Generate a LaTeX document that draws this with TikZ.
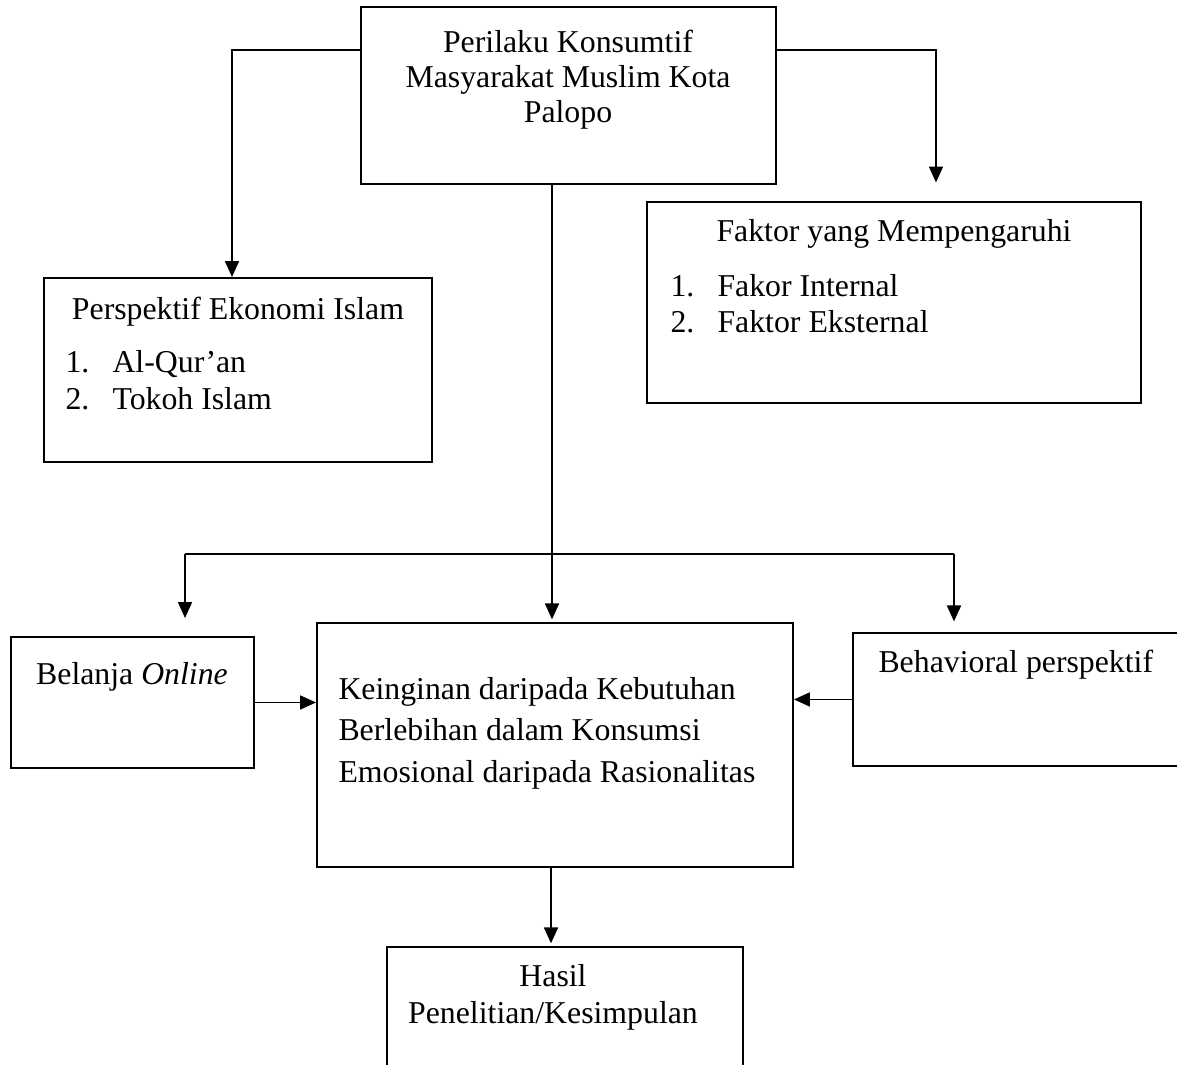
\documentclass[tikz,border=0pt]{standalone}
\usepackage{fontspec}
\setmainfont{Liberation Serif}
\usetikzlibrary{positioning, arrows.meta, fit}

\tikzset{
  kotak/.style={draw, line width=0.75pt, inner sep=0pt},
  teks/.style={inner sep=0pt, font=\fontsize{12pt}{14pt}\selectfont},
  garis/.style={line width=0.6pt},
  panah/.style={garis, -{Triangle[width=5.3pt, length=6pt]}}
}

\begin{document}
\begin{tikzpicture}[x=0.3774pt, y=-0.3774pt]
  \clip (0,0) rectangle (1177,1065);
  \fill[white] (0,0) rectangle (1177,1065);

  \node[kotak, fit={(361,7) (776,184)}] (atas) {};
  \node[kotak, fit={(44,278) (432,462)}] (kiri) {};
  \node[kotak, fit={(647,202) (1141,403)}] (kanan) {};
  \node[kotak, fit={(11,637) (254,768)}] (belanja) {};
  \node[kotak, fit={(317,623) (793,867)}] (tengah) {};
  \node[kotak, fit={(853,633) (1200,766)}] (perilaku) {};
  \node[kotak, fit={(387,947) (743,1100)}] (hasil) {};

  \foreach \t [count=\i] in {Perilaku Konsumtif, Masyarakat Muslim Kota, Palopo}
    \node[teks, anchor=base] (atas-\i) at (568,18+35*\i) {\t};

  \node[teks, anchor=base] (kiri-judul) at (238,320) {Perspektif Ekonomi Islam};
  \foreach \t [count=\i] in {Al-Qur’an, Tokoh Islam} {
    \node[teks, anchor=base west] (kiri-no\i) at (65,336+37*\i) {\i.};
    \node[teks, anchor=base west] (kiri-\i) at (112,336+37*\i) {\t};
  }

  \node[teks, anchor=base] (kanan-judul) at (894,242) {Faktor yang Mempengaruhi};
  \foreach \t [count=\i] in {Fakor Internal, Faktor Eksternal} {
    \node[teks, anchor=base west] (kanan-no\i) at (670,261+36*\i) {\i.};
    \node[teks, anchor=base west] (kanan-\i) at (717,261+36*\i) {\t};
  }

  \node[teks, anchor=base] (belanja-t) at (132,685) {Belanja \textit{Online}};
  \node[teks, anchor=base west] (perilaku-t) at (878,673) {Behavioral perspektif};

  \foreach \t [count=\i] in {Keinginan daripada Kebutuhan, Berlebihan dalam Konsumsi, Emosional daripada Rasionalitas}
    \node[teks, anchor=base west] (tengah-\i) at (338,658+41.5*\i) {\t};

  \node[teks, anchor=base] (hasil-1) at (553,987) {Hasil};
  \node[teks, anchor=base] (hasil-2) at (553,1024) {Penelitian/Kesimpulan};

  \coordinate (cabkiri) at (232,50);
  \coordinate (cabkanan) at (936,50);
  \coordinate (bus) at (552,554);
  \coordinate (buskiri) at (185,554);
  \coordinate (buskanan) at (954,554);
  \coordinate (turun) at (551,0);

  \draw[panah] (atas.west |- cabkiri) -- (cabkiri) -- (cabkiri |- kiri.north);
  \draw[panah, shorten >=7pt] (atas.east |- cabkanan) -- (cabkanan) -- (cabkanan |- kanan.north);
  \draw[garis] (buskiri) -- (buskanan);
  \draw[panah, shorten >=1pt] (atas.south -| bus) -- (bus) -- (bus |- tengah.north);
  \draw[panah, shorten >=6.8pt] (buskiri) -- (buskiri |- belanja.north);
  \draw[panah, shorten >=4pt] (buskanan) -- (buskanan |- perilaku.north);
  \draw[panah] (belanja.east) -- (belanja.east -| tengah.west);
  \draw[panah] (perilaku.west) -- (perilaku.west -| tengah.east);
  \draw[panah, shorten >=1pt] (tengah.south -| turun) -- (turun |- hasil.north);
\end{tikzpicture}
\end{document}
